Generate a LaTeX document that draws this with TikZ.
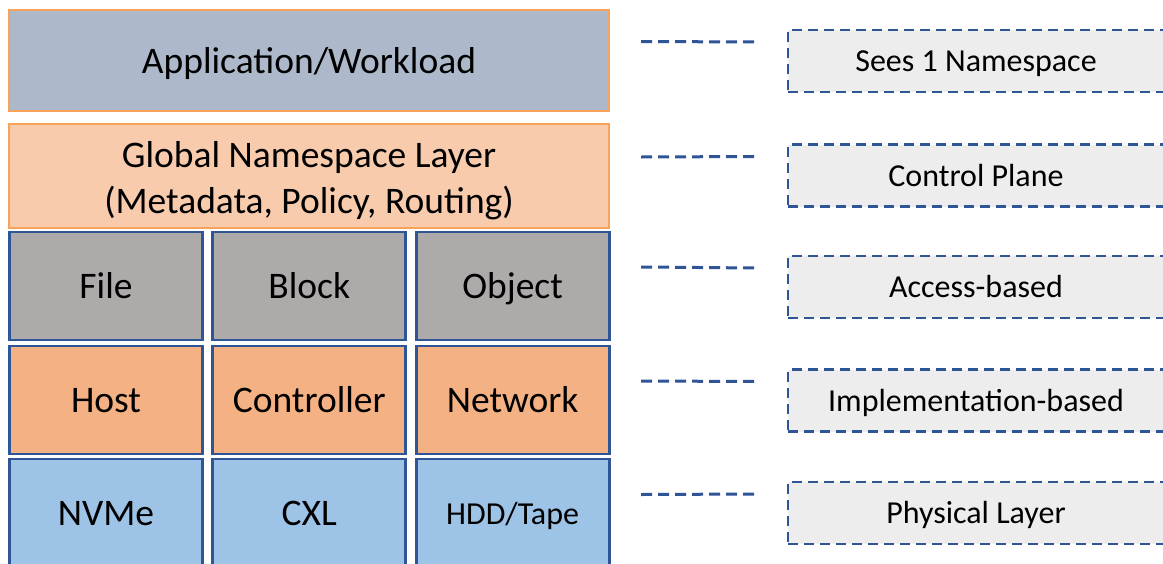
\documentclass[tikz,border=0pt]{standalone}
\usepackage{fontspec}
\setmainfont{Carlito}
\usetikzlibrary{calc}
\definecolor{edgeblue}{HTML}{2F5597}
\definecolor{edgeorange}{HTML}{F8A25A}
\definecolor{appfill}{HTML}{ADB9CA}
\definecolor{gnsfill}{HTML}{F8CBAD}
\definecolor{accfill}{HTML}{AEAAAA}
\definecolor{implfill}{HTML}{F4B183}
\definecolor{physfill}{HTML}{9DC3E6}
\definecolor{notefill}{HTML}{EDEDED}
\tikzstyle{layer}=[draw=edgeorange,line width=2.5pt,inner sep=0,outer sep=0,minimum width=600,align=center,font=\fontsize{37.5}{46}\selectfont]
\tikzstyle{cell}=[draw=edgeblue,line width=2.8pt,inner sep=0,outer sep=0,minimum width=193,minimum height=108,text height=24pt,text depth=0pt,font=\fontsize{37.5}{45}\selectfont]
\tikzstyle{note}=[draw=edgeblue,fill=notefill,line width=2.8pt,dash pattern=on 10pt off 6pt,inner sep=0,outer sep=0,minimum width=376,minimum height=62,text height=21pt,text depth=0pt,font=\fontsize{32}{38}\selectfont]
\tikzstyle{link}=[draw=edgeblue,line width=3pt,dash pattern=on 11pt off 6pt]

\begin{document}
\begin{tikzpicture}[x=1pt,y=-1pt]
  \useasboundingbox (0,0) rectangle (1163,563);
  % left stack
  \node[layer,fill=appfill,minimum height=101,text height=25pt,text depth=0pt] (app) at (309,60.5) {Application/Workload};
  \node[layer,fill=gnsfill,minimum height=104] (gns) at (309,176) {\raisebox{-5pt}[\height][\depth]{\begin{tabular}{@{}c@{}}Global Namespace Layer\\(Metadata, Policy, Routing)\end{tabular}}};
  \foreach \lbl/\nm [count=\i, evaluate={\x=106+203.3*(\i-1);}] in {File/file,Block/block,Object/object}
    \node[cell,fill=accfill] (\nm) at (\x,286) {\lbl};
  \foreach \lbl/\nm [count=\i, evaluate={\x=106+203.3*(\i-1);}] in {Host/host,Controller/controller,Network/network}
    \node[cell,fill=implfill] (\nm) at (\x,400) {\lbl};
  \foreach \lbl/\nm [count=\i, evaluate={\x=106+203.3*(\i-1);}] in {NVMe/nvme,CXL/cxl}
    \node[cell,fill=physfill,minimum height=109] (\nm) at (\x,513.5) {\lbl};
  \node[cell,fill=physfill,minimum height=109,text height=21pt,font=\fontsize{32}{38}\selectfont] (hdd) at (512.6,513.5) {HDD/Tape};
  % right notes
  \node[note] (sees) at (976,61) {Sees 1 Namespace};
  \node[note] (ctrl) at (976,175.5) {Control Plane};
  \node[note] (access) at (976,287) {Access-based};
  \node[note] (impl) at (976,400.5) {Implementation-based};
  \node[note] (phys) at (976,513) {Physical Layer};
  \foreach \a/\b in {app/sees,gns/ctrl,object/access,network/impl,hdd/phys}
    \draw[link] ([xshift=32pt,yshift=19pt]\a.east) -- ([xshift=-31pt,yshift=19pt]\b.west);
\end{tikzpicture}
\end{document}
